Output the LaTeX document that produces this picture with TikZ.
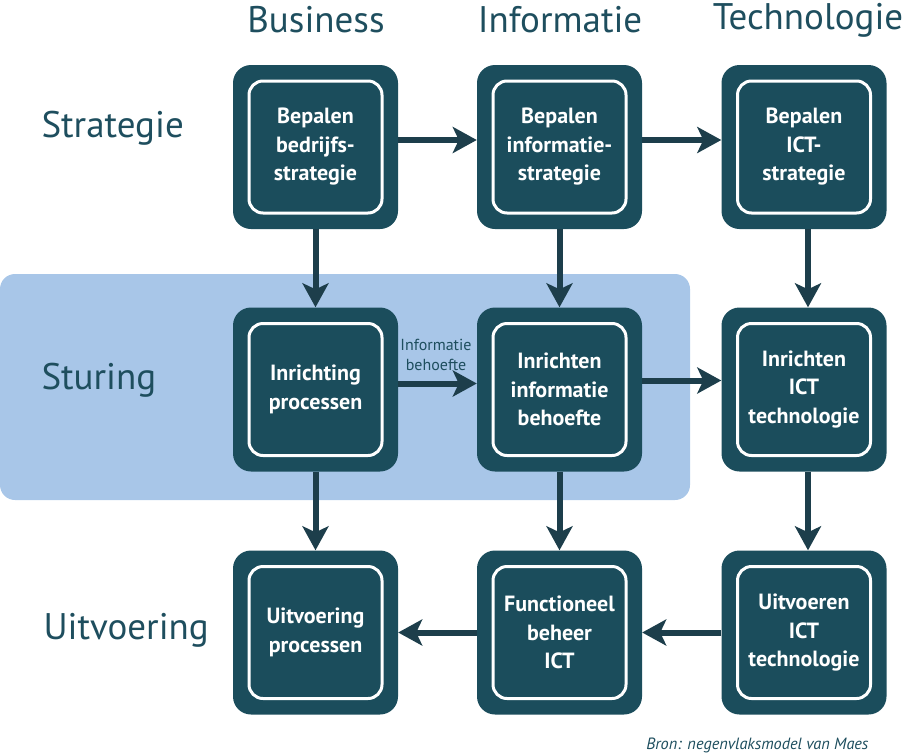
\documentclass[tikz,border=0pt]{standalone}
\usepackage{fontspec}
\setmainfont{PT Sans}
\usetikzlibrary{arrows.meta}
\definecolor{boxc}{HTML}{1B4D5C}
\definecolor{arrc}{HTML}{1D3E4B}
\definecolor{txtc}{HTML}{1E4E5E}
\definecolor{bandc}{HTML}{A8C6E8}
\begin{document}
\begin{tikzpicture}[x=1pt,y=-1pt,
  outerbox/.style={fill=boxc,rounded corners=18pt,minimum width=165pt,minimum height=164pt,inner sep=0pt},
  innerbox/.style={draw=white,line width=3pt,rounded corners=14pt,minimum width=133pt,minimum height=132pt,inner sep=0pt,
     text=white,font=\fontsize{22}{28.5}\selectfont\bfseries,align=center},
  arr/.style={draw=arrc,line width=6pt,-{Stealth[length=24pt,width=26pt,inset=6pt]}},
  head/.style={text=txtc,font=\fontsize{37}{40}\selectfont},
  rowlab/.style={text=txtc,font=\fontsize{37}{40}\selectfont,anchor=west}]
\useasboundingbox (0,0) rectangle (909,755);
\fill[bandc,rounded corners=15pt] (0,274) rectangle (690,500);
% headers
\node[head] (hb) at (316,20) {Business};
\node[head] (hi) at (560,20) {Informatie};
\node[head] (ht) at (808,20) {Technologie};
\node[rowlab] (rs) at (38,128) {Strategie};
\node[rowlab] (rt) at (38,380) {Sturing};
\node[rowlab] (ru) at (40,630) {Uitvoering};
% boxes
\foreach \n/\x/\y in {11/315.5/147, 12/559.5/147, 13/804/147, 21/315.5/389.5, 22/559.5/389.5, 23/804/389.5, 31/315.5/632.5, 32/559.5/632.5, 33/804/632.5}
  \node[outerbox] (b\n) at (\x,\y) {};
\node[innerbox] (i11) at (b11) {Bepalen\\bedrijfs-\\strategie};
\node[innerbox] (i12) at (b12) {Bepalen\\informatie-\\strategie};
\node[innerbox] (i13) at (b13) {Bepalen\\ICT-\\strategie};
\node[innerbox] (i21) at (b21) {Inrichting\\processen};
\node[innerbox] (i22) at (b22) {Inrichten\\informatie\\behoefte};
\node[innerbox] (i23) at (b23) {Inrichten\\ICT\\technologie};
\node[innerbox] (i31) at (b31) {Uitvoering\\processen};
\node[innerbox] (i32) at (b32) {Functioneel\\beheer\\ICT};
\node[innerbox] (i33) at (b33) {Uitvoeren\\ICT\\technologie};
% arrows
\draw[arr] ([yshift=7pt]b11.east) -- ([yshift=7pt]b12.west);
\draw[arr] ([yshift=7pt]b12.east) -- ([yshift=7pt]b13.west);
\draw[arr] (b11.south) -- (b21.north);
\draw[arr] (b12.south) -- (b22.north);
\draw[arr] ([xshift=4pt]b13.south) -- ([xshift=4pt]b23.north);
\draw[arr] ([yshift=6pt]b21.east) -- ([yshift=6pt]b22.west);
\draw[arr] ([yshift=9pt]b22.east) -- ([yshift=9pt]b23.west);
\draw[arr] (b21.south) -- (b31.north);
\draw[arr] (b22.south) -- (b32.north);
\draw[arr] ([xshift=4pt]b23.south) -- ([xshift=4pt]b33.north);
\draw[arr] (b33.west) -- (b32.east);
\draw[arr] (b32.west) -- (b31.east);
\node[text=txtc,font=\fontsize{16}{20}\selectfont,align=center] (lbl) at (436,355) {Informatie\\behoefte};
\node[text=txtc,font=\fontsize{16.3}{19}\selectfont\itshape,anchor=east] (src) at (872,745) {Bron: negenvlaksmodel van Maes};
\end{tikzpicture}
\end{document}
